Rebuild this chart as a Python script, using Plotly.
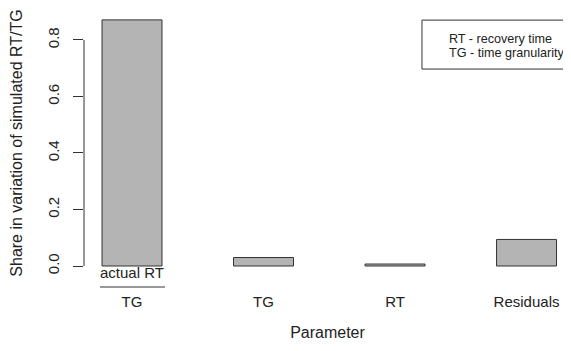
import plotly.graph_objects as go

categories = ["actual RT / TG", "TG", "RT", "Residuals"]
shares = [0.871, 0.030, 0.007, 0.094]
tick_labels = ["TG", "TG", "RT", "Residuals"]
y_ticks = [0.0, 0.2, 0.4, 0.6, 0.8]
legend_lines = ["RT - recovery time", "TG - time granularity"]

FONT = "Liberation Sans, Arial, sans-serif"
TXT = "#222222"
idx = list(range(len(categories)))

fig = go.Figure()
fig.add_trace(go.Bar(
    x=idx, y=shares, width=0.456,
    marker=dict(color="#b4b4b4", line=dict(color="#333333", width=1)),
    hoverinfo="skip", showlegend=False,
))

# page body has an 8px margin, so the figure is offset by 8px
fig.update_layout(
    width=563, height=343,
    margin=dict(l=76, r=0, t=2, b=75),
    paper_bgcolor="white", plot_bgcolor="white",
    font=dict(family=FONT, size=15, color=TXT),
    xaxis=dict(
        range=[-0.365, 3.338], tickmode="array", tickvals=idx, ticktext=tick_labels,
        showgrid=False, zeroline=False, showline=False,
        ticks="outside", ticklen=12, tickcolor="rgba(0,0,0,0)",
        tickfont=dict(size=15, color=TXT),
        title=dict(text="Parameter", standoff=17, font=dict(size=16, color=TXT)),
    ),
    yaxis=dict(
        range=[-0.0354, 0.906], tickmode="array", tickvals=y_ticks,
        ticktext=[f"{v:.1f}" for v in y_ticks], tickangle=-90,
        showgrid=False, zeroline=False, showline=False,
        ticks="outside", ticklen=10, tickcolor="#333333", tickwidth=1,
        ticklabelstandoff=8,
        tickfont=dict(size=15, color=TXT),
        title=dict(text="Share in variation of simulated RT/TG", standoff=21,
                   font=dict(size=16, color=TXT)),
    ),
)

# y axis line spanning tick range only (R style)
fig.add_shape(type="line", xref="paper", yref="y", x0=0, x1=0,
              y0=y_ticks[0], y1=y_ticks[-1], line=dict(color="#333333", width=1))

# fraction label for first bar
fig.add_annotation(x=0, y=0.0113, xref="x", yref="paper", text="actual RT",
                   showarrow=False, yanchor="middle", font=dict(size=15, color=TXT))
fig.add_shape(type="line", xref="x", yref="paper", x0=-0.243, x1=0.251,
              y0=-0.0414, y1=-0.0414, line=dict(color="#333333", width=1))

# legend box
fig.add_shape(type="rect", xref="paper", yref="paper", x0=0.694, x1=1.02,
              y0=0.778, y1=0.962, line=dict(color="#333333", width=1),
              fillcolor="rgba(0,0,0,0)")
for i, line in enumerate(legend_lines):
    fig.add_annotation(x=0.746, y=0.890 - 0.0526 * i, xref="paper", yref="paper",
                       text=line, showarrow=False, xanchor="left", yanchor="middle",
                       font=dict(size=12.6, color=TXT))

fig.write_html("out.html")
